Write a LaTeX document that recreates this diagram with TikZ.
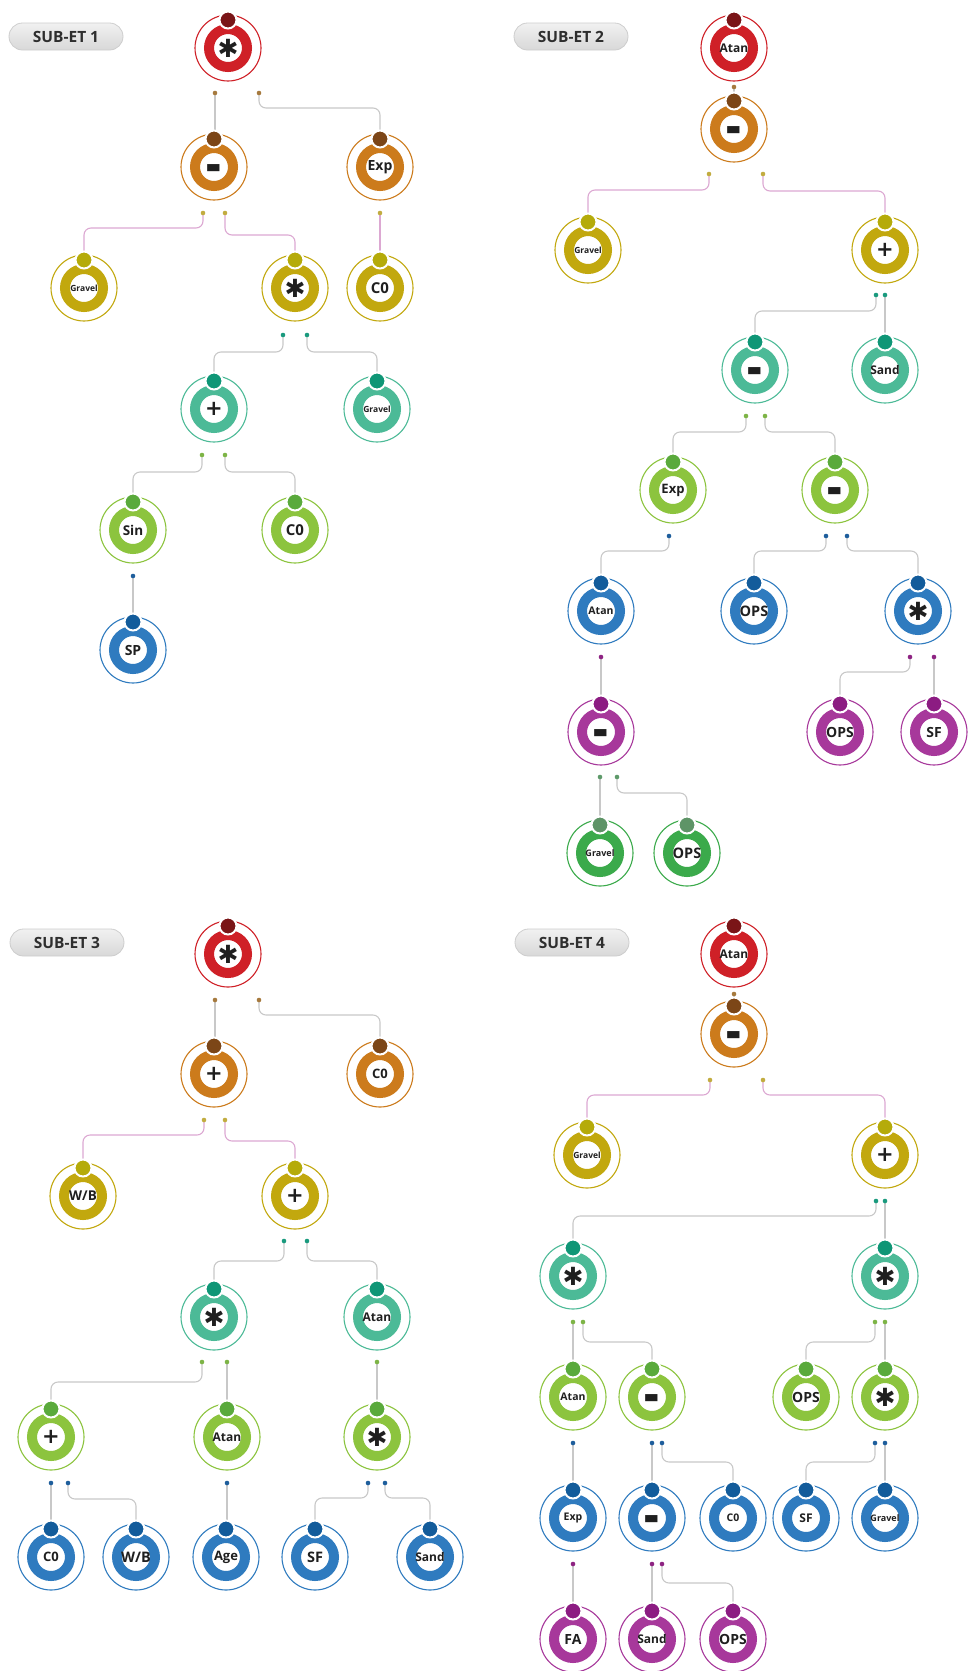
\documentclass[tikz,border=0pt]{standalone}
\usepackage{fontspec}
\usepackage{graphicx}
\setmainfont{Open Sans}
\newfontfamily\djv{DejaVu Sans}
\usetikzlibrary{backgrounds}
\definecolor{r0}{HTML}{CF2027}\definecolor{k0}{HTML}{7A1517}
\definecolor{r1}{HTML}{CC7B1C}\definecolor{k1}{HTML}{7C4617}
\definecolor{r2}{HTML}{C2A80E}\definecolor{k2}{HTML}{B5AB0A}
\definecolor{r3}{HTML}{4CBA97}\definecolor{k3}{HTML}{0F9676}
\definecolor{r4}{HTML}{8CC43E}\definecolor{k4}{HTML}{5AAA3C}
\definecolor{r5}{HTML}{2F7BBF}\definecolor{k5}{HTML}{135C9B}
\definecolor{r6}{HTML}{A7389B}\definecolor{k6}{HTML}{8C1C82}
\definecolor{r7}{HTML}{3BAA4B}\definecolor{k7}{HTML}{5E9467}
\definecolor{dt1}{HTML}{A67A3E}\definecolor{dt2}{HTML}{C2AC40}
\definecolor{dt3}{HTML}{1A9A7E}\definecolor{dt4}{HTML}{7DB446}
\definecolor{dt5}{HTML}{1E5E9C}\definecolor{dt6}{HTML}{8E2483}
\definecolor{dt7}{HTML}{5E9A6A}
\definecolor{pinkline}{HTML}{DCA8D2}\definecolor{greyline}{HTML}{C8C8C8}
\definecolor{pillA}{HTML}{F1F1F1}\definecolor{pillB}{HTML}{D8D8D8}\definecolor{pillD}{HTML}{CDCDCD}
\newcommand\minusglyph{\smash{\raisebox{-15pt}{\scalebox{2}[2.5]{\djv\bfseries\fontsize{20}{20}\selectfont -}}}}
\newcommand\plusglyph{{\djv\bfseries\fontsize{21}{21}\selectfont +}}
\newcommand\astglyph{{\djv\fontsize{25}{25}\selectfont ✱}}
\tikzset{
  base/.style 2 args={circle, minimum size=66pt, inner sep=0pt, outer sep=0pt, draw=#1,
    line width=1.1pt, fill=white, text=black!88,
    path picture={\draw[#1, line width=10pt] (path picture bounding box.center) circle (19pt);},
    label={[circle, fill=#2, draw=white, line width=2pt, minimum size=17pt, inner sep=0pt,
      outer sep=0pt, anchor=center, label distance=-5pt]90:{}}},
  L0/.style={base={r0}{k0}}, L1/.style={base={r1}{k1}}, L2/.style={base={r2}{k2}},
  L3/.style={base={r3}{k3}}, L4/.style={base={r4}{k4}}, L5/.style={base={r5}{k5}},
  L6/.style={base={r6}{k6}}, L7/.style={base={r7}{k7}},
  lbl/.style={font=\bfseries\fontsize{#1}{#1}\selectfont},
  lbl/.default=13,
  pk/.style={draw=pinkline, line width=1.1pt, rounded corners=7pt},
  gr/.style={draw=greyline, line width=1.1pt, rounded corners=7pt},
  pill/.style={rectangle, rounded corners=13.5pt, minimum width=114pt, minimum height=27pt,
    inner sep=0pt, top color=pillA, bottom color=pillB, draw=pillD, line width=0.8pt,
    font=\bfseries\fontsize{15.5}{15.5}\selectfont, text=black!82},
}
\begin{document}
\begin{tikzpicture}[x=1pt, y=-1pt]
\useasboundingbox (0,0) rectangle (975,1671);
% ---------- titles
\node[pill] (t1) at (66,36.5) {SUB-ET 1};
\node[pill] (t2) at (571,36.5) {SUB-ET 2};
\node[pill] (t3) at (67,942.5) {SUB-ET 3};
\node[pill] (t4) at (572,942.5) {SUB-ET 4};
% ---------- SUB-ET 1
\node[L0] (a0) at (228,48) {\astglyph};
\node[L1] (a1) at (214,167) {\minusglyph};
\node[L1, lbl=14] (a2) at (380,167) {Exp};
\node[L2, lbl=8.5] (a3) at (84,288) {Gravel};
\node[L2] (a4) at (295,288) {\astglyph};
\node[L2, lbl=15] (a5) at (380,288) {C0};
\node[L3] (a6) at (214,409) {\plusglyph};
\node[L3, lbl=8.5] (a7) at (377,409) {Gravel};
\node[L4, lbl=13.5] (a8) at (133,530) {Sin};
\node[L4, lbl=15] (a9) at (295,530) {C0};
\node[L5, lbl=14] (a10) at (133,650) {SP};
% ---------- SUB-ET 2
\node[L0, lbl=12] (b0) at (734,48) {Atan};
\node[L1] (b1) at (734,129) {\minusglyph};
\node[L2, lbl=8.5] (b2) at (588,250) {Gravel};
\node[L2] (b3) at (885,250) {\plusglyph};
\node[L3] (b4) at (755,370) {\minusglyph};
\node[L3, lbl=12] (b5) at (885,370) {Sand};
\node[L4, lbl=13] (b6) at (673,490) {Exp};
\node[L4] (b7) at (835,490) {\minusglyph};
\node[L5, lbl=10.5] (b8) at (601,611) {Atan};
\node[L5, lbl=14.5] (b9) at (754,611) {OPS};
\node[L5] (b10) at (918,611) {\astglyph};
\node[L6] (b11) at (601,732) {\minusglyph};
\node[L6, lbl=14] (b12) at (840,732) {OPS};
\node[L6, lbl=14] (b13) at (934,732) {SF};
\node[L7, lbl=9] (b14) at (600,853) {Gravel};
\node[L7, lbl=14.5] (b15) at (687,853) {OPS};
% ---------- SUB-ET 3
\node[L0] (c0) at (228,954) {\astglyph};
\node[L1] (c1) at (214,1074) {\plusglyph};
\node[L1, lbl=13] (c2) at (380,1074) {C0};
\node[L2, lbl=13.5] (c3) at (83,1196) {W/B};
\node[L2] (c4) at (295,1196) {\plusglyph};
\node[L3] (c5) at (214,1317) {\astglyph};
\node[L3, lbl=12] (c6) at (377,1317) {Atan};
\node[L4] (c7) at (51,1437) {\plusglyph};
\node[L4, lbl=12] (c8) at (227,1437) {Atan};
\node[L4] (c9) at (377,1437) {\astglyph};
\node[L5, lbl=13] (c10) at (51,1557) {C0};
\node[L5, lbl=14.5] (c11) at (136,1557) {W/B};
\node[L5, lbl=13] (c12) at (226,1557) {Age};
\node[L5, lbl=14.5] (c13) at (315,1557) {SF};
\node[L5, lbl=12] (c14) at (430,1557) {Sand};
% ---------- SUB-ET 4
\node[L0, lbl=12] (d0) at (734,954) {Atan};
\node[L1] (d1) at (734,1034) {\minusglyph};
\node[L2, lbl=8.5] (d2) at (587,1155) {Gravel};
\node[L2] (d3) at (885,1155) {\plusglyph};
\node[L3] (d4) at (573,1276) {\astglyph};
\node[L3] (d5) at (885,1276) {\astglyph};
\node[L4, lbl=10.5] (d6) at (573,1397) {Atan};
\node[L4] (d7) at (652,1397) {\minusglyph};
\node[L4, lbl=14] (d8) at (806,1397) {OPS};
\node[L4] (d9) at (885,1397) {\astglyph};
\node[L5, lbl=10.5] (d10) at (573,1518) {Exp};
\node[L5] (d11) at (652,1518) {\minusglyph};
\node[L5, lbl=10.5] (d12) at (733,1518) {C0};
\node[L5, lbl=12] (d13) at (806,1518) {SF};
\node[L5, lbl=9] (d14) at (885,1518) {Gravel};
\node[L6, lbl=14] (d15) at (573,1639) {FA};
\node[L6, lbl=12] (d16) at (652,1639) {Sand};
\node[L6, lbl=14] (d17) at (733,1639) {OPS};
% ---------- dot coordinates
\coordinate (a0l) at (215,93);   \coordinate (a0r) at (259,93);
\coordinate (a1l) at (203,213);  \coordinate (a1r) at (225,213);
\coordinate (a2m) at (380,213);
\coordinate (a4l) at (283,335);  \coordinate (a4r) at (307,335);
\coordinate (a6l) at (202,455);  \coordinate (a6r) at (225,455);
\coordinate (a8m) at (133,576);
\coordinate (b0m) at (734,87);
\coordinate (b1l) at (709,174);  \coordinate (b1r) at (763,174);
\coordinate (b3l) at (876,295);  \coordinate (b3r) at (885,295);
\coordinate (b4l) at (746,416);  \coordinate (b4r) at (765,416);
\coordinate (b6m) at (669,536);
\coordinate (b7l) at (826,536);  \coordinate (b7r) at (847,536);
\coordinate (b8m) at (601,657);
\coordinate (b10l) at (910,657); \coordinate (b10r) at (934,657);
\coordinate (b11l) at (600,777); \coordinate (b11r) at (617,777);
\coordinate (c0l) at (215,1000); \coordinate (c0r) at (259,1000);
\coordinate (c1l) at (204,1120); \coordinate (c1r) at (225,1120);
\coordinate (c4l) at (284,1241); \coordinate (c4r) at (307,1241);
\coordinate (c5l) at (202,1362); \coordinate (c5r) at (227,1362);
\coordinate (c6m) at (377,1362);
\coordinate (c7l) at (51,1483);  \coordinate (c7r) at (68,1483);
\coordinate (c8m) at (227,1483);
\coordinate (c9l) at (368,1483); \coordinate (c9r) at (385,1483);
\coordinate (d0m) at (734,994);
\coordinate (d1l) at (710,1080); \coordinate (d1r) at (763,1080);
\coordinate (d3l) at (876,1201); \coordinate (d3r) at (885,1201);
\coordinate (d4l) at (573,1322); \coordinate (d4r) at (583,1322);
\coordinate (d5l) at (875,1322); \coordinate (d5r) at (885,1322);
\coordinate (d6m) at (573,1443);
\coordinate (d7l) at (652,1443); \coordinate (d7r) at (662,1443);
\coordinate (d9l) at (875,1443); \coordinate (d9r) at (885,1443);
\coordinate (d10m) at (573,1564);
\coordinate (d11l) at (652,1564); \coordinate (d11r) at (662,1564);
% ---------- connectors
\begin{pgfonlayer}{background}
% SUB-ET 1
\draw[gr] (a0l) -- (a0l |- a1);
\draw[gr] (a0r) -- ++(0,15) -| (a2);
\draw[pk] (a1l) -- ++(0,15) -| (a3);
\draw[pk] (a1r) -- ++(0,22) -| (a4);
\draw[pk] (a2m) -- (a2m |- a5);
\draw[gr] (a4l) -- ++(0,17) -| (a6);
\draw[gr] (a4r) -- ++(0,17) -| (a7);
\draw[gr] (a6l) -- ++(0,17) -| (a8);
\draw[gr] (a6r) -- ++(0,17) -| (a9);
\draw[gr] (a8m) -- (a8m |- a10);
% SUB-ET 2
\draw[gr] (b0m) -- (b0m |- b1);
\draw[pk] (b1l) -- ++(0,16) -| (b2);
\draw[pk] (b1r) -- ++(0,17) -| (b3);
\draw[gr] (b3l) -- ++(0,16) -| (b4);
\draw[gr] (b3r) -- (b3r |- b5);
\draw[gr] (b4l) -- ++(0,16) -| (b6);
\draw[gr] (b4r) -- ++(0,16) -| (b7);
\draw[gr] (b6m) -- ++(0,15) -| (b8);
\draw[gr] (b7l) -- ++(0,15) -| (b9);
\draw[gr] (b7r) -- ++(0,15) -| (b10);
\draw[gr] (b8m) -- (b8m |- b11);
\draw[gr] (b10l) -- ++(0,15) -| (b12);
\draw[gr] (b10r) -- (b10r |- b13);
\draw[gr] (b11l) -- (b11l |- b14);
\draw[gr] (b11r) -- ++(0,16) -| (b15);
% SUB-ET 3
\draw[gr] (c0l) -- (c0l |- c1);
\draw[gr] (c0r) -- ++(0,15) -| (c2);
\draw[pk] (c1l) -- ++(0,15) -| (c3);
\draw[pk] (c1r) -- ++(0,21) -| (c4);
\draw[gr] (c4l) -- ++(0,20) -| (c5);
\draw[gr] (c4r) -- ++(0,20) -| (c6);
\draw[gr] (c5l) -- ++(0,20) -| (c7);
\draw[gr] (c5r) -- (c5r |- c8);
\draw[gr] (c6m) -- (c6m |- c9);
\draw[gr] (c7l) -- (c7l |- c10);
\draw[gr] (c7r) -- ++(0,16) -| (c11);
\draw[gr] (c8m) -- (c8m |- c12);
\draw[gr] (c9l) -- ++(0,15) -| (c13);
\draw[gr] (c9r) -- ++(0,15) -| (c14);
% SUB-ET 4
\draw[gr] (d0m) -- (d0m |- d1);
\draw[pk] (d1l) -- ++(0,15) -| (d2);
\draw[pk] (d1r) -- ++(0,15) -| (d3);
\draw[gr] (d3l) -- ++(0,15) -| (d4);
\draw[gr] (d3r) -- (d3r |- d5);
\draw[gr] (d4l) -- (d4l |- d6);
\draw[gr] (d4r) -- ++(0,20) -| (d7);
\draw[gr] (d5l) -- ++(0,20) -| (d8);
\draw[gr] (d5r) -- (d5r |- d9);
\draw[gr] (d6m) -- (d6m |- d10);
\draw[gr] (d7l) -- (d7l |- d11);
\draw[gr] (d7r) -- ++(0,19) -| (d12);
\draw[gr] (d9l) -- ++(0,19) -| (d13);
\draw[gr] (d9r) -- (d9r |- d14);
\draw[gr] (d10m) -- (d10m |- d15);
\draw[gr] (d11l) -- (d11l |- d16);
\draw[gr] (d11r) -- ++(0,19) -| (d17);
\end{pgfonlayer}
% ---------- dots
\foreach \p in {a0l,a0r,b0m,c0l,c0r,d0m} \fill[dt1] (\p) circle (2.3pt);
\foreach \p in {a1l,a1r,a2m,b1l,b1r,c1l,c1r,d1l,d1r} \fill[dt2] (\p) circle (2.3pt);
\foreach \p in {a4l,a4r,b3l,b3r,c4l,c4r,d3l,d3r} \fill[dt3] (\p) circle (2.3pt);
\foreach \p in {a6l,a6r,b4l,b4r,c5l,c5r,c6m,d4l,d4r,d5l,d5r} \fill[dt4] (\p) circle (2.3pt);
\foreach \p in {a8m,b6m,b7l,b7r,c7l,c7r,c8m,c9l,c9r,d6m,d7l,d7r,d9l,d9r} \fill[dt5] (\p) circle (2.3pt);
\foreach \p in {b8m,b10l,b10r,d10m,d11l,d11r} \fill[dt6] (\p) circle (2.3pt);
\foreach \p in {b11l,b11r} \fill[dt7] (\p) circle (2.3pt);
\end{tikzpicture}
\end{document}
